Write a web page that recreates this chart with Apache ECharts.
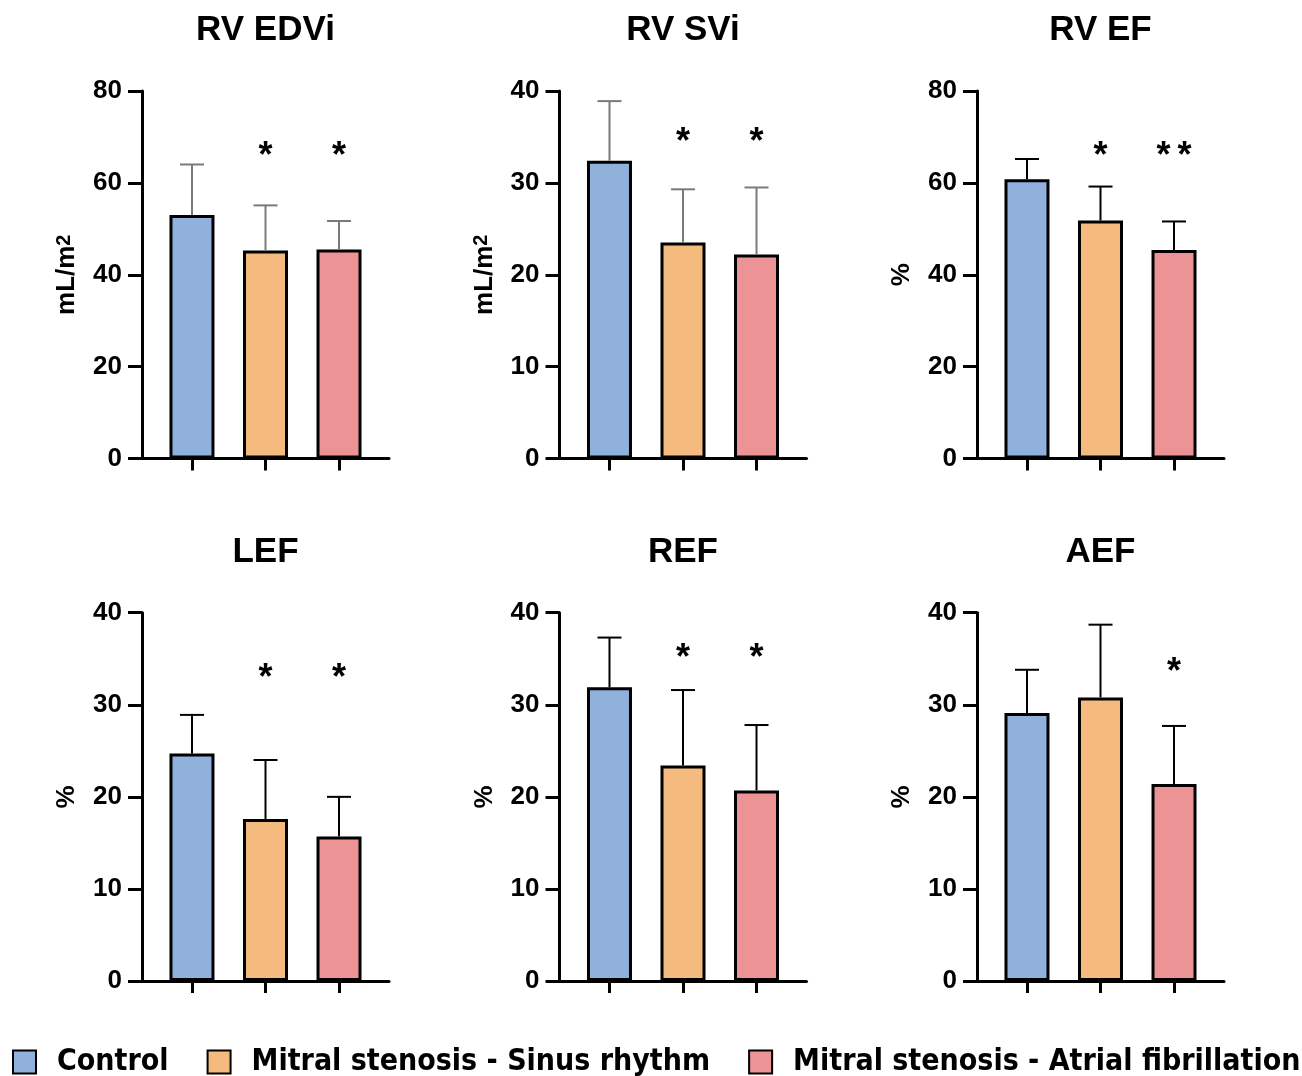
<!DOCTYPE html>
<html>
<head>
<meta charset="utf-8">
<script src="https://cdn.jsdelivr.net/npm/echarts@6/dist/echarts.min.js"></script>
<style>
  html, body { margin: 0; padding: 0; background: #fff; }
  #chart { width: 1302px; height: 1076px; }
</style>
</head>
<body>
<div id="chart"></div>
<script>
// ---------- data ----------
const groups = ['Control', 'Mitral stenosis - Sinus rhythm', 'Mitral stenosis - Atrial fibrillation'];
const panelTitles = ['RV EDVi', 'RV SVi', 'RV EF', 'LEF', 'REF', 'AEF'];
const yAxisNames = ['mL/m{s|2}', 'mL/m{s|2}', '%', '%', '%', '%'];
const yMax = [80, 40, 80, 40, 40, 40];
const yStep = [20, 10, 20, 10, 10, 10];
const meanRVEDVi = [53.0, 45.3, 45.5];
const meanRVSVi = [32.4, 23.5, 22.2];
const meanRVEF = [60.8, 51.8, 45.4];
const meanLEF = [24.7, 17.6, 15.7];
const meanREF = [31.9, 23.4, 20.7];
const meanAEF = [29.1, 30.8, 21.4];
const sdRVEDVi = [11.0, 9.8, 6.2];
const sdRVSVi = [6.5, 5.8, 7.3];
const sdRVEF = [4.4, 7.4, 6.2];
const sdLEF = [4.2, 6.4, 4.3];
const sdREF = [5.4, 8.2, 7.1];
const sdAEF = [4.7, 7.9, 6.3];
const sigMarks = [['', '*', '*'], ['', '*', '*'], ['', '*', '**'], ['', '*', '*'], ['', '*', '*'], ['', '', '*']];
const sigLevel = [67, 35, 67, 33.4, 35.6, 34.1];

const means = [meanRVEDVi, meanRVSVi, meanRVEF, meanLEF, meanREF, meanAEF];
const sds = [sdRVEDVi, sdRVSVi, sdRVEF, sdLEF, sdREF, sdAEF];

// ---------- styles / layout ----------
const colors = ['#8FB1DC', '#F4BA7E', '#EC9396'];
const errColors = ['#7a7a7a', '#7a7a7a', '#000', '#000', '#000', '#000'];
const FONT = "'Liberation Sans', Arial, Helvetica, sans-serif";
const gridLeft = [142, 559.5, 977];
const gridTop = [91, 612.7];
const gridH = [367.5, 368.3];
const gridW = 247;
const xMin = -0.68, xMax = 2.68;

const grids = [], xAxes = [], yAxes = [], series = [], titles = [];

for (let p = 0; p < 6; p++) {
  const col = p % 3, row = Math.floor(p / 3);
  grids.push({ left: gridLeft[col], top: gridTop[row], width: gridW, height: gridH[row], containLabel: false });
  xAxes.push({
    gridIndex: p, type: 'value', min: xMin, max: xMax,
    axisLine: { show: true, onZero: false, lineStyle: { color: '#000', width: 3 } },
    axisTick: { show: true, customValues: [0, 1, 2], length: 12, lineStyle: { color: '#000', width: 3 } },
    axisLabel: { show: false },
    splitLine: { show: false }
  });
  yAxes.push({
    gridIndex: p, type: 'value', min: 0, max: yMax[p], interval: yStep[p],
    name: yAxisNames[p], nameLocation: 'middle', nameGap: 62, nameRotate: 90,
    nameTextStyle: {
      fontSize: 26, fontWeight: 'bold', color: '#000', fontFamily: FONT,
      rich: { s: { fontSize: 20, fontWeight: 'bold', color: '#000', fontFamily: FONT, verticalAlign: 'top' } }
    },
    axisLine: { show: true, onZero: false, lineStyle: { color: '#000', width: 3 } },
    axisTick: { show: true, length: 14, lineStyle: { color: '#000', width: 3 } },
    axisLabel: { fontSize: 26, fontWeight: 'bold', color: '#000', fontFamily: FONT, margin: 20 },
    splitLine: { show: false }
  });
  titles.push({
    text: panelTitles[p], left: gridLeft[col] + gridW / 2, top: row === 0 ? 13 : 535,
    textAlign: 'center', padding: 0,
    textStyle: { fontSize: 35, fontWeight: 'bold', color: '#000', fontFamily: FONT }
  });
  for (let g = 0; g < 3; g++) {
    series.push({
      type: 'bar', name: groups[g], xAxisIndex: p, yAxisIndex: p,
      barWidth: 45, barGap: '-100%',
      itemStyle: { color: colors[g], borderColor: '#000', borderWidth: 3 },
      data: [[g, means[p][g]]], z: 2, silent: true
    });
  }
  const ec = errColors[p];
  series.push({
    type: 'custom', xAxisIndex: p, yAxisIndex: p, z: 3, silent: true,
    data: means[p].map((m, g) => [g, m, m + sds[p][g]]),
    renderItem: function (params, api) {
      const x = api.value(0), m = api.value(1), u = api.value(2);
      const p0 = api.coord([x, m]), p1 = api.coord([x, u]);
      const hw = 12;
      return {
        type: 'group', children: [
          { type: 'line', shape: { x1: p0[0], y1: p0[1], x2: p1[0], y2: p1[1] }, style: { stroke: ec, lineWidth: 2 } },
          { type: 'line', shape: { x1: p1[0] - hw, y1: p1[1], x2: p1[0] + hw, y2: p1[1] }, style: { stroke: ec, lineWidth: 2 } }
        ]
      };
    }
  });
  series.push({
    type: 'custom', xAxisIndex: p, yAxisIndex: p, z: 4, silent: true,
    data: sigMarks[p].map((s, g) => [g, sigLevel[p]]),
    renderItem: function (params, api) {
      const pt = api.coord([api.value(0), api.value(1)]);
      const txt = sigMarks[p][params.dataIndex].split('').join('\u2009');
      return {
        type: 'text', x: pt[0], y: pt[1] + 6,
        style: { text: txt, fill: '#000', font: 'bold 36px ' + FONT, align: 'center', verticalAlign: 'middle', textAlign: 'center', textVerticalAlign: 'middle' }
      };
    }
  });
}

const chart = echarts.init(document.getElementById('chart'), null, { renderer: 'canvas' });
chart.setOption({
  animation: false,
  backgroundColor: '#fff',
  title: titles,
  legend: {
    data: groups, left: 12, top: 1047, width: 1500, padding: 0,
    itemWidth: 23, itemHeight: 23, itemGap: 38,
    icon: 'rect', selectedMode: false,
    itemStyle: { borderColor: '#000', borderWidth: 2 },
    textStyle: { fontSize: 30, fontWeight: 'bold', color: '#000', fontFamily: "'Liberation Sans Narrow', 'DejaVu Sans Condensed', sans-serif", padding: [0, 0, 0, 16] }
  },
  grid: grids, xAxis: xAxes, yAxis: yAxes, series: series
});
</script>
</body>
</html>
